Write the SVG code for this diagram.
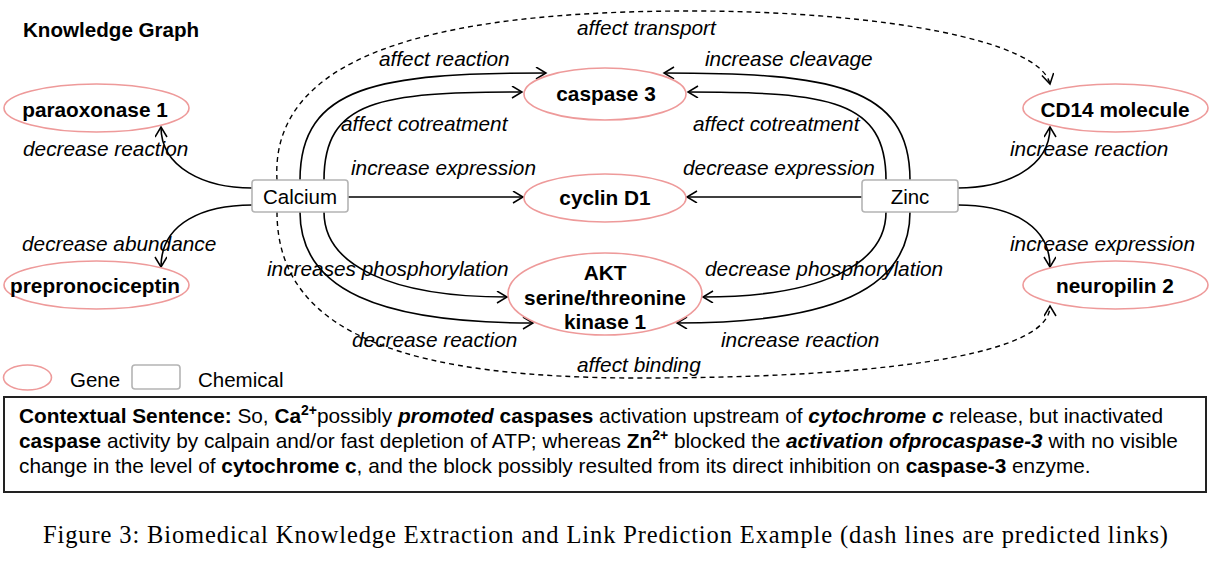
<svg xmlns="http://www.w3.org/2000/svg" width="1213" height="562" viewBox="0 0 1213 562">
<style>
  .gene { fill: #ffffff; stroke: #ee9a9a; stroke-width: 1.6; }
  .chem { fill: #ffffff; stroke: #b4b4b4; stroke-width: 1.6; }
  .edge { fill: none; stroke: #000; stroke-width: 1.6; marker-end: url(#arr); }
  .pred { fill: none; stroke: #000; stroke-width: 1.4; stroke-dasharray: 5 4; marker-end: url(#arr); }
  .nl { font-family: "Liberation Sans", Arial, sans-serif; font-size: 20.8px; font-weight: bold; text-anchor: middle; fill: #000; }
  .cl { font-family: "Liberation Sans", Arial, sans-serif; font-size: 20.5px; text-anchor: middle; fill: #000; }
  .el { font-family: "Liberation Sans", Arial, sans-serif; font-size: 20.8px; font-style: italic; fill: #000; }
  .lg { font-family: "Liberation Sans", Arial, sans-serif; font-size: 20.5px; fill: #000; }
  .ttl { font-family: "Liberation Sans", Arial, sans-serif; font-size: 20.6px; font-weight: bold; fill: #000; }
  .ctx { font-family: "Liberation Sans", Arial, sans-serif; font-size: 20.8px; fill: #000; }
  .sup { font-size: 14px; font-weight: bold; }
  .b { font-weight: bold; }
  .bi { font-weight: bold; font-style: italic; }
  .cap { font-family: "Liberation Serif", "Times New Roman", serif; font-size: 24.5px; fill: #000; }
</style>
<defs>
  <marker id="arr" markerUnits="userSpaceOnUse" markerWidth="14" markerHeight="14" refX="11" refY="6" orient="auto">
    <path d="M1,0 L11,6 L1,12" fill="none" stroke="#000" stroke-width="1.5"/>
  </marker>
</defs>
<rect width="1213" height="562" fill="#ffffff"/>

<text x="23" y="37" class="ttl">Knowledge Graph</text>

<g id="connectors">
  <!-- predicted (dashed) -->
  <path class="pred" d="M277,180 C270,60 420,10 700,11 C880,12 1040,40 1050,84"/>
  <path class="pred" d="M277,212 C277,340 420,378 640,378 C850,378 1050,360 1050,306"/>
  <!-- Calcium to caspase 3 -->
  <path class="edge" d="M300,180 C300,85 380,73 546,73"/>
  <path class="edge" d="M324,180 C324,100 380,92 522,92"/>
  <!-- Zinc to caspase 3 -->
  <path class="edge" d="M910,180 C910,85 830,73 664,73"/>
  <path class="edge" d="M886,180 C886,100 830,92 688,92"/>
  <!-- cyclin D1 -->
  <path class="edge" d="M348,197 L523,197"/>
  <path class="edge" d="M862,197 L687,197"/>
  <!-- AKT -->
  <path class="edge" d="M324,212 C324,265 390,297 507,297"/>
  <path class="edge" d="M300,212 C300,290 380,323 533,323"/>
  <path class="edge" d="M886,212 C886,265 820,297 703,297"/>
  <path class="edge" d="M910,212 C910,290 830,323 677,323"/>
  <!-- side genes -->
  <path class="edge" d="M252,188 C205,188 161,168 161,127"/>
  <path class="edge" d="M252,205 C205,205 161,222 161,267"/>
  <path class="edge" d="M958,188 C1005,188 1050,168 1050,127"/>
  <path class="edge" d="M958,205 C1005,205 1050,222 1050,267"/>

  <!-- edge labels -->
  <text class="el" x="577" y="35">affect transport</text>
  <text class="el" x="379" y="66">affect reaction</text>
  <text class="el" x="705" y="66">increase cleavage</text>
  <text class="el" x="341" y="131">affect cotreatment</text>
  <text class="el" x="693" y="131">affect cotreatment</text>
  <text class="el" x="351" y="175">increase expression</text>
  <text class="el" x="683" y="175">decrease expression</text>
  <text class="el" x="267" y="276">increases phosphorylation</text>
  <text class="el" x="705" y="276">decrease phosphorylation</text>
  <text class="el" x="352" y="347">decrease reaction</text>
  <text class="el" x="721" y="347">increase reaction</text>
  <text class="el" x="577" y="372">affect binding</text>
  <text class="el" x="23" y="156">decrease reaction</text>
  <text class="el" x="22" y="251">decrease abundance</text>
  <text class="el" x="1010" y="156">increase reaction</text>
  <text class="el" x="1010" y="251">increase expression</text>
</g>

<g id="node-calcium">
  <rect class="chem" x="252" y="180" width="96" height="32" rx="3"/>
  <text class="cl" x="300" y="204">Calcium</text>
</g>
<g id="node-zinc">
  <rect class="chem" x="862" y="180" width="96" height="32" rx="3"/>
  <text class="cl" x="910" y="204">Zinc</text>
</g>
<g id="node-paraoxonase1">
  <ellipse class="gene" cx="96.5" cy="108" rx="92.5" ry="24"/>
  <text class="nl" x="95" y="117">paraoxonase 1</text>
</g>
<g id="node-prepronociceptin">
  <ellipse class="gene" cx="96.5" cy="285" rx="92.5" ry="24"/>
  <text class="nl" x="95" y="293">prepronociceptin</text>
</g>
<g id="node-cd14">
  <ellipse class="gene" cx="1115.5" cy="108" rx="92.5" ry="24"/>
  <text class="nl" x="1115" y="117">CD14 molecule</text>
</g>
<g id="node-neuropilin2">
  <ellipse class="gene" cx="1115.5" cy="285" rx="92.5" ry="24"/>
  <text class="nl" x="1115" y="293">neuropilin 2</text>
</g>
<g id="node-caspase3">
  <ellipse class="gene" cx="605" cy="94" rx="81" ry="26"/>
  <text class="nl" x="606" y="101">caspase 3</text>
</g>
<g id="node-cyclind1">
  <ellipse class="gene" cx="605" cy="198" rx="81" ry="24"/>
  <text class="nl" x="605" y="205">cyclin D1</text>
</g>
<g id="node-akt">
  <ellipse class="gene" cx="605" cy="294" rx="97" ry="41"/>
  <text class="nl" x="605" y="280">AKT</text>
  <text class="nl" x="605" y="305">serine/threonine</text>
  <text class="nl" x="605" y="329">kinase 1</text>
</g>

<g id="legend">
  <ellipse class="gene" cx="27.5" cy="377.5" rx="24" ry="12.5"/>
  <text class="lg" x="70" y="387">Gene</text>
  <rect class="chem" x="132" y="365" width="48" height="24" rx="3"/>
  <text class="lg" x="198" y="387">Chemical</text>
</g>

<g id="context">
  <rect x="4" y="397" width="1202" height="95" fill="none" stroke="#222" stroke-width="2"/>
  <text class="ctx" x="19" y="423"><tspan class="b">Contextual Sentence:</tspan> So, <tspan class="b">Ca</tspan><tspan class="sup" dy="-8">2+</tspan><tspan dy="8">possibly </tspan><tspan class="bi">promoted</tspan> <tspan class="b">caspases</tspan> activation upstream of <tspan class="bi">cytochrome c</tspan> release, but inactivated</text>
  <text class="ctx" x="19" y="448"><tspan class="b">caspase</tspan> activity by calpain and/or fast depletion of ATP; whereas <tspan class="b">Zn</tspan><tspan class="sup" dy="-8">2+</tspan><tspan dy="8"> blocked the </tspan><tspan class="bi">activation ofprocaspase-3</tspan> with no visible</text>
  <text class="ctx" x="19" y="473">change in the level of <tspan class="b">cytochrome c</tspan>, and the block possibly resulted from its direct inhibition on <tspan class="b">caspase-3</tspan> enzyme.</text>
</g>

<text class="cap" x="43" y="543" textLength="1125" lengthAdjust="spacing">Figure 3: Biomedical Knowledge Extraction and Link Prediction Example (dash lines are predicted links)</text>
</svg>
